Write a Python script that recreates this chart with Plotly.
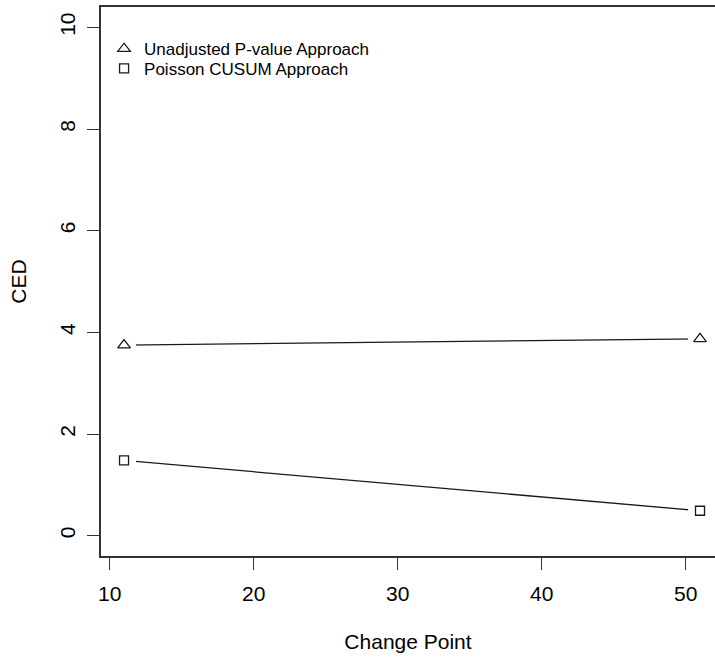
import plotly.graph_objects as go

change_points = [11, 51]
unadjusted_ced = [3.75, 3.87]
cusum_ced = [1.48, 0.49]
series_names = ["Unadjusted P-value Approach", "Poisson CUSUM Approach"]
x_ticks = [10, 20, 30, 40, 50]
y_ticks = [0, 2, 4, 6, 8, 10]

FONT = "Liberation Sans, Arial, sans-serif"
LINE_C = "#1a1a1a"

fig = go.Figure()
series = [(unadjusted_ced, "triangle-up-open", 11, series_names[0], "legend"),
          (cusum_ced, "square-open", 9, series_names[1], "legend2")]

for vals, sym, sz, name, lg in series:
    fig.add_trace(go.Scatter(x=change_points, y=vals, mode="lines",
                             line=dict(color=LINE_C, width=1.3),
                             showlegend=False, hoverinfo="skip"))
    fig.add_trace(go.Scatter(x=change_points, y=vals, mode="markers",
                             marker=dict(symbol="circle", size=24, color="white",
                                         line=dict(width=0)),
                             showlegend=False, hoverinfo="skip"))
for vals, sym, sz, name, lg in series:
    fig.add_trace(go.Scatter(x=change_points, y=vals, mode="markers", name=name,
                             legend=lg,
                             marker=dict(symbol=sym, size=sz, color=LINE_C,
                                         line=dict(width=1.3, color=LINE_C))))

axis_common = dict(showgrid=False, zeroline=False, showline=True, linecolor="#333333",
                   linewidth=1.5, ticks="outside", ticklen=12, tickwidth=1.3,
                   tickcolor="#333333", tickfont=dict(family=FONT, size=21, color="black"))

legend_common = dict(xanchor="left", yanchor="top", bgcolor="rgba(0,0,0,0)",
                     borderwidth=0, font=dict(family=FONT, size=17, color="black"))

fig.update_layout(
    width=715, height=660,
    margin=dict(l=101, r=0, t=7, b=104),
    paper_bgcolor="white", plot_bgcolor="white",
    font=dict(family=FONT, color="black"),
    xaxis=dict(range=[9.4, 52.04], tickvals=x_ticks, mirror=True, ticklabelstandoff=6,
               title=dict(text="Change Point", font=dict(family=FONT, size=21), standoff=30),
               **axis_common),
    yaxis=dict(range=[-0.4, 10.4], tickvals=y_ticks, mirror=False, tickangle=-90,
               ticklabelstandoff=4,
               title=dict(text="CED", font=dict(family=FONT, size=21), standoff=23),
               **axis_common),
    legend=dict(x=0.005, y=0.956, **legend_common),
    legend2=dict(x=0.005, y=0.92, **legend_common),
    showlegend=True,
)

fig.write_html("out.html")
